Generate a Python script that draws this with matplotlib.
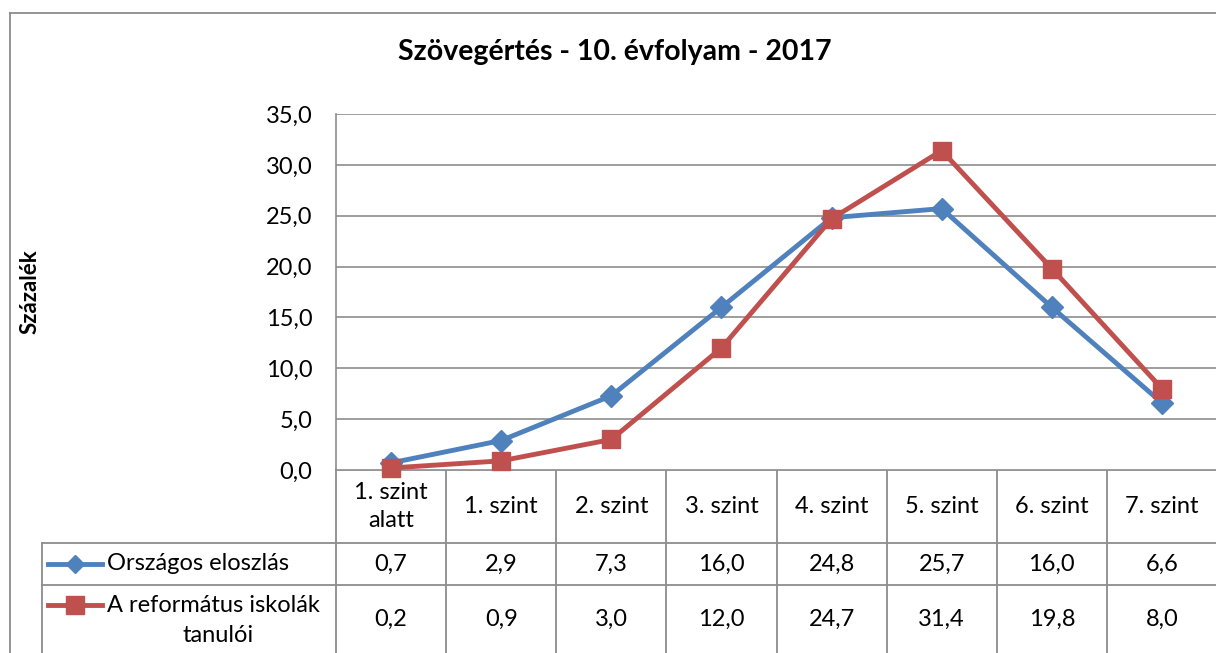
import matplotlib
matplotlib.use("Agg")
import matplotlib.pyplot as plt
from matplotlib.lines import Line2D

categories = ["1. szint\nalatt", "1. szint", "2. szint", "3. szint", "4. szint", "5. szint", "6. szint", "7. szint"]
orszagos = [0.7, 2.9, 7.3, 16.0, 24.8, 25.7, 16.0, 6.6]
reformatus = [0.2, 0.9, 3.0, 12.0, 24.7, 31.4, 19.8, 8.0]
series_names = ["Országos eloszlás", "A református iskolák\ntanulói"]
yticks = [0, 5, 10, 15, 20, 25, 30, 35]
title = "Szövegértés - 10. évfolyam - 2017"
ylabel = "Százalék"

FONT = ["Lato", "DejaVu Sans"]
plt.rcParams['font.family'] = FONT
FS = 17

W, H = 1216, 653
fig = plt.figure(figsize=(W / 100, H / 100), dpi=100)

ov = fig.add_axes([0, 0, 1, 1])
ov.set_xlim(0, W)
ov.set_ylim(H, 0)
ov.axis("off")

grey = "#8c8c8c"
ov.plot([10, W], [13, 13], color=grey, lw=1.3)
ov.plot([10, 10], [13, H], color=grey, lw=1.3)

L, R, T, B = 336, 1217, 114, 470
ax = fig.add_axes([L / W, 1 - B / H, (R - L) / W, (B - T) / H])
n = len(categories)
xs = [i + 0.5 for i in range(n)]
ax.set_xlim(0, n)
ax.set_ylim(0, 35)
ax.set_yticks(yticks)
ax.set_yticklabels([f"{v:.1f}".replace(".", ",") for v in yticks], fontsize=FS)
ax.set_xticks([])
ax.tick_params(axis="y", length=0, pad=17)
ax.grid(axis="y", color=grey, lw=1.2)
ax.set_axisbelow(True)
for s in ["top", "right", "bottom"]:
    ax.spines[s].set_visible(False)
ax.spines["left"].set_color(grey)
ax.spines["left"].set_linewidth(1.2)

blue = "#4F81BD"
red = "#C0504D"
ax.plot(xs, orszagos, color=blue, lw=3.5, marker="D", ms=11, clip_on=False, zorder=3)
ax.plot(xs, reformatus, color=red, lw=3.5, marker="s", ms=13, clip_on=False, zorder=4)

fig.text(615 / W, 1 - 52 / H, title, ha="center", va="center", fontsize=20.5, fontweight="bold")
fig.text(30 / W, 1 - 292 / H, ylabel, ha="center", va="center", rotation=90, fontsize=16, fontweight="bold")

colw = (R - L) / n
r0, r1, r2 = 470, 543, 585
ov.plot([L, W], [r0, r0], color=grey, lw=1.3)
ov.plot([42, W], [r1, r1], color=grey, lw=1.3)
ov.plot([42, W], [r2, r2], color=grey, lw=1.3)
ov.plot([42, 42], [r1, H], color=grey, lw=1.3)
for i in range(n + 1):
    x = L + i * colw
    ov.plot([x, x], [r0, H], color=grey, lw=1.3)
for i, c in enumerate(categories):
    ov.text(L + (i + 0.5) * colw, (r0 + r1) / 2, c, ha="center", va="center", fontsize=FS, linespacing=1.45)
rows = [(orszagos, blue, "D", 9, (r1 + r2) / 2), (reformatus, red, "s", 13, 619)]
for k, (vals, col, mk, ms, yc) in enumerate(rows):
    for i, v in enumerate(vals):
        ov.text(L + (i + 0.5) * colw, yc, f"{v:.1f}".replace(".", ","), ha="center", va="center", fontsize=FS)
    ly = yc if k == 0 else 605
    ov.add_line(Line2D([48, 102], [ly, ly], color=col, lw=3.5))
    ov.add_line(Line2D([75], [ly], color=col, marker=mk, ms=ms, lw=0))
ov.text(107, (r1 + r2) / 2, series_names[0], ha="left", va="center", fontsize=FS)
ov.text(107, 605, "A református iskolák", ha="left", va="center", fontsize=FS)
ov.text(218, 636, "tanulói", ha="center", va="center", fontsize=FS)

fig.savefig("out.png", dpi=100)
